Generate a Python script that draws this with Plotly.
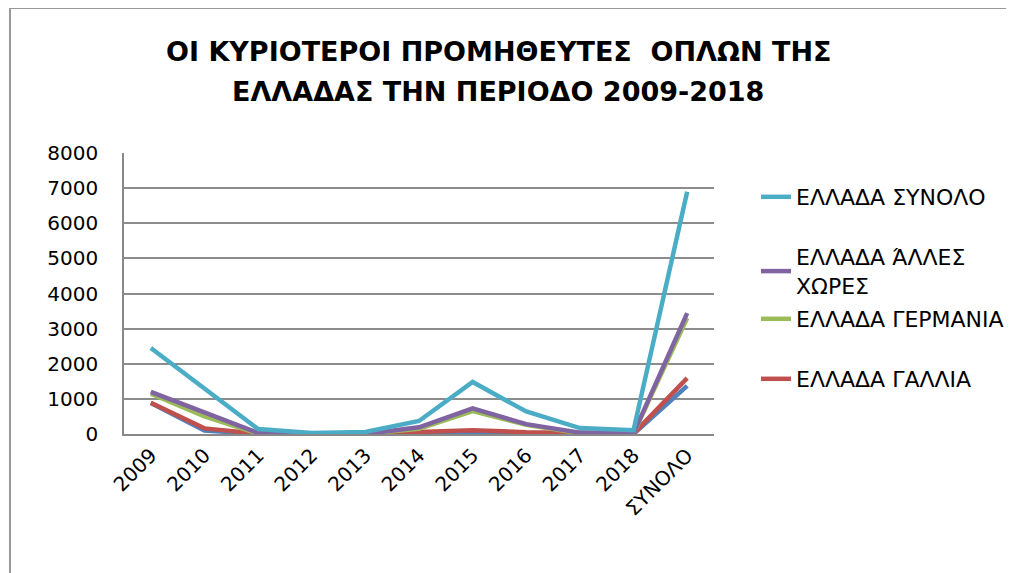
import plotly.graph_objects as go

categories = ["2009", "2010", "2011", "2012", "2013", "2014", "2015", "2016", "2017", "2018", "ΣΥΝΟΛΟ"]

synolo = [2450, 1280, 140, 30, 60, 370, 1480, 640, 170, 110, 6900]
alles = [1200, 610, 30, 0, 0, 190, 730, 280, 40, 20, 3440]
germania = [1150, 500, 10, 0, 0, 150, 650, 260, 20, 10, 3300]
gallia = [890, 160, 10, 0, 0, 60, 110, 50, 20, 10, 1590]
other_blue = [880, 100, 0, 0, 0, 10, 20, 10, 0, 0, 1370]

names = ["ΕΛΛΑΔΑ ΣΥΝΟΛΟ", "ΕΛΛΑΔΑ ΆΛΛΕΣ<br>ΧΩΡΕΣ", "ΕΛΛΑΔΑ ΓΕΡΜΑΝΙΑ", "ΕΛΛΑΔΑ ΓΑΛΛΙΑ"]
colors = ["#4BACC6", "#8064A2", "#9BBB59", "#C0504D"]
legend_ids = ["legend", "legend2", "legend3", "legend4"]
legend_tops = [176, 236, 298, 358]

OFF = 8  # page body margin
PL, PR, PT, PB = 124, 714, 153, 434
W = float(PR - PL)
H = float(PB - PT)


def px_x(p):
    return (p - PL) / W


def px_y(p):
    return (PB - p) / H


fig = go.Figure()
fig.add_trace(go.Scatter(x=categories, y=other_blue, mode="lines", line=dict(color="#4F81BD", width=4.5),
                         showlegend=False, hoverinfo="skip"))
series = [synolo, alles, germania, gallia]
items = list(zip(series, names, colors, legend_ids))
for vals, name, col, lid in reversed(items):
    fig.add_trace(go.Scatter(x=categories, y=vals, mode="lines", name=name, legend=lid,
                             line=dict(color=col, width=4.5)))

legend_font = dict(size=22, family="DejaVu Sans", color="#000000")
legend_layouts = {}
for lid, top in zip(legend_ids, legend_tops):
    legend_layouts[lid] = dict(x=px_x(756), xanchor="left", y=px_y(top), yanchor="top",
                               font=legend_font, bgcolor="rgba(0,0,0,0)")

fig.update_layout(
    width=1014, height=573,
    margin=dict(l=PL - OFF, r=1014 - (PR - OFF), t=PT - OFF, b=573 - (PB - OFF), autoexpand=False),
    paper_bgcolor="white", plot_bgcolor="white",
    font=dict(family="DejaVu Sans", color="#000000", size=18),
    xaxis=dict(type="category", showgrid=False, showline=True, linecolor="#888888", linewidth=1.5,
               tickangle=-45, ticks="", tickfont=dict(size=20), range=[-0.5, 10.5], automargin=False),
    yaxis=dict(range=[0, 8000], dtick=1000, showgrid=True, gridcolor="#8c8c8c", gridwidth=1.5,
               showline=True, linecolor="#888888", linewidth=1.5, ticks="", zeroline=False,
               tickfont=dict(size=20), ticklabelstandoff=20, automargin=False),
    annotations=[
        dict(text="<b>ΟΙ ΚΥΡΙΟΤΕΡΟΙ ΠΡΟΜΗΘΕΥΤΕΣ  ΟΠΛΩΝ ΤΗΣ</b>", xref="paper", yref="paper",
             x=px_x(498), y=px_y(51), xanchor="center", yanchor="middle", showarrow=False,
             font=dict(family="DejaVu Sans", size=27, color="#000000")),
        dict(text="<b>ΕΛΛΑΔΑΣ ΤΗΝ ΠΕΡΙΟΔΟ 2009-2018</b>", xref="paper", yref="paper",
             x=px_x(498), y=px_y(91), xanchor="center", yanchor="middle", showarrow=False,
             font=dict(family="DejaVu Sans", size=27, color="#000000")),
    ],
    shapes=[
        dict(type="line", xref="paper", yref="paper", x0=px_x(10), x1=px_x(1030),
             y0=px_y(8), y1=px_y(8), line=dict(color="#999999", width=2)),
        dict(type="line", xref="paper", yref="paper", x0=px_x(10), x1=px_x(10),
             y0=px_y(8), y1=px_y(590), line=dict(color="#999999", width=2)),
    ],
    **legend_layouts,
)

fig.write_html("out.html")
